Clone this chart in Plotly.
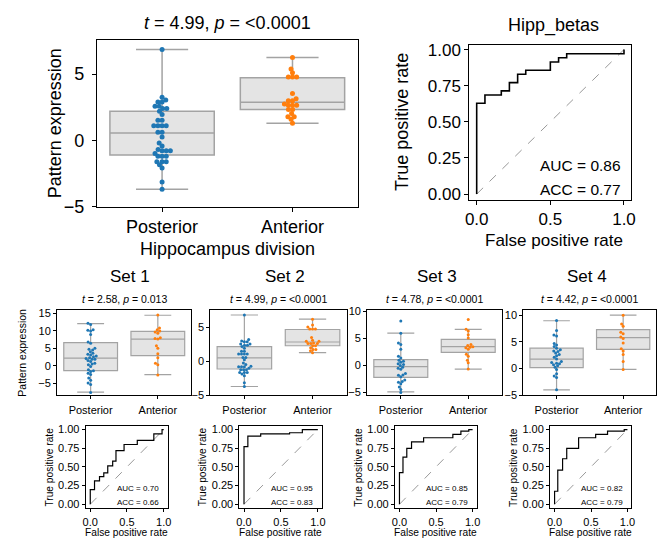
import numpy as np
import plotly.graph_objects as go

W, H = 665, 549

# ---------------- data ----------------
categories = ["Posterior", "Anterior"]

hipp_title_t = "4.99"
hipp_title_p = "<0.0001"
hipp_auc = "0.86"
hipp_acc = "0.77"

hipp_posterior = [6.86, 3.26, 3.04, 2.9, 2.9, 2.57, 2.57, 2.4, 2.4, 2.2, 1.96, 1.52, 1.52,
                  1.1, 1.1, 1.1, 1.1, 0.61, 0.61, 0.25, -0.2, -0.42, -0.69, -0.78, -0.78,
                  -0.78, -0.98, -1.2, -1.2, -1.2, -1.6, -1.6, -1.6, -1.84, -2.08, -3.14, -3.68]
hipp_anterior = [6.25, 5.39, 5.1, 4.78, 4.78, 4.78, 3.53, 3.14, 2.99, 2.99, 2.75, 2.65,
                 2.65, 2.65, 2.33, 2.33, 2.03, 1.79, 1.79, 1.59, 1.3]

set1_posterior = [12.1, 11.8, 10.3, 10.1, 9.9, 8.9, 6.8, 6.4, 5.0, 4.7, 4.5, 4.0, 3.6, 3.3,
                  3.1, 2.8, 2.6, 2.3, 2.1, 1.9, 1.9, 1.5, 1.2, 0.75, 0.5, 0.3, -0.2, -1.1,
                  -1.4, -1.6, -2.1, -2.5, -3.5, -4.1, -4.9, -5.3, -7.6]
set1_anterior = [14.5, 10.8, 10.3, 9.9, 9.6, 9.3, 8.0, 7.8, 7.6, 5.7, 5.0, 3.4, 2.3, 0.75,
                 0.3, -2.6]
set3_posterior = [8.25, 6.0, 4.2, 3.9, 3.0, 1.7, 1.4, 1.0, 0.8, 0.6, 0.35, 0.2, 0.0, -0.3,
                  -0.5, -0.7, -1.5, -1.75, -1.8, -2.1, -2.7, -2.95, -3.1, -3.4, -4.0,
                  -4.45, -5.0]
set3_anterior = [8.55, 6.75, 6.4, 5.7, 5.1, 3.9, 3.7, 3.5, 3.4, 3.3, 3.0, 2.1, 1.7, 1.0,
                 0.5, -0.65]
set4_posterior = [9.0, 7.1, 6.3, 6.1, 4.7, 4.4, 4.1, 3.8, 3.5, 3.3, 3.2, 2.9, 2.6, 2.4,
                  2.1, 1.8, 1.3, 1.1, 1.0, 0.9, 0.7, 0.5, 0.25, -0.2, -1.0, -1.4, -1.7, -4.0]
set4_anterior = [10.0, 8.35, 7.9, 6.8, 6.5, 5.9, 5.6, 4.8, 3.7, 3.3, 2.6, 1.3, -0.2]

# box statistics [posterior, anterior]
hipp_q1 = [-1.1, 2.33]
hipp_med = [0.55, 2.88]
hipp_q3 = [2.2, 4.72]
hipp_lo = [-3.68, 1.3]
hipp_hi = [6.86, 6.25]

set1_q1 = [-1.4, 2.9]
set1_med = [2.2, 7.6]
set1_q3 = [6.6, 9.8]
set1_lo = [-7.5, -2.5]
set1_hi = [12.0, 14.4]

set3_q1 = [-2.2, 2.45]
set3_med = [-0.2, 3.5]
set3_q3 = [1.1, 4.85]
set3_lo = [-4.9, -0.65]
set3_hi = [6.0, 6.7]

set4_q1 = [0.15, 3.6]
set4_med = [1.75, 5.8]
set4_q3 = [3.8, 7.3]
set4_lo = [-4.0, -0.15]
set4_hi = [8.95, 10.0]

set_names = ["Set 1", "Set 2", "Set 3", "Set 4"]
set_t = ["2.58", "4.99", "4.78", "4.42"]
set_p = ["0.013", "<0.0001", "<0.0001", "<0.0001"]
set_auc = ["0.70", "0.95", "0.85", "0.82"]
set_acc = ["0.66", "0.83", "0.79", "0.79"]

# ROC curve corner points
hipp_fpr = [0, 0, 0.056, 0.167, 0.222, 0.278, 0.333, 0.5, 0.556, 0.611, 1.0]
hipp_tpr = [0, 0.629, 0.686, 0.714, 0.771, 0.829, 0.857, 0.914, 0.943, 0.971, 1.0]
set1_fpr = [0, 0, 0.058, 0.126, 0.184, 0.238, 0.305, 0.35, 0.46, 0.64, 0.865, 0.977, 1.0]
set1_tpr = [0, 0.196, 0.313, 0.37, 0.42, 0.513, 0.578, 0.717, 0.80, 0.856, 0.943, 1.0, 1.0]
set2_fpr = [0, 0, 0.052, 0.226, 0.617, 0.79, 1.0]
set2_tpr = [0, 0.77, 0.913, 0.943, 0.957, 1.0, 1.0]
set3_fpr = [0, 0, 0.048, 0.1, 0.165, 0.33, 0.73, 0.84, 0.948, 1.0]
set3_tpr = [0, 0.422, 0.63, 0.748, 0.835, 0.89, 0.935, 0.978, 1.0, 1.0]
set4_fpr = [0, 0, 0.044, 0.11, 0.167, 0.33, 0.564, 0.727, 0.956, 1.0]
set4_tpr = [0, 0.174, 0.457, 0.609, 0.748, 0.89, 0.935, 0.978, 1.0, 1.0]

# ---------------- styling ----------------
FONT = "Liberation Sans, Arial, Helvetica, sans-serif"
BLUE = "#1f77b4"
ORANGE = "#ff7f0e"
BOX_FILL = "#e4e4e4"
BOX_LINE = "#a3a3a3"

fig = go.Figure()
layout = dict(width=W, height=H, margin=dict(l=0, r=0, t=0, b=0, pad=0),
              paper_bgcolor="white", plot_bgcolor="white", showlegend=False,
              font=dict(family=FONT, color="black"))
annotations = []


def px_dom_x(x0, x1):
    return [x0 / W, x1 / W]


def px_dom_y(y0, y1):
    return [1 - y1 / H, 1 - y0 / H]


def text(x, y, s, size, angle=0, xanchor="center"):
    annotations.append(dict(x=x / W, y=1 - y / H, xref="paper", yref="paper", text=s,
                            showarrow=False, font=dict(size=size, family=FONT, color="black"),
                            textangle=angle, xanchor=xanchor, yanchor="middle"))


axis_count = [0]


def new_axes(xdom, ydom, xr, yr, xtv, xtt, ytv, ytt, tfs, tlen, xstand=0, ystand=0):
    axis_count[0] += 1
    n = axis_count[0]
    sx = "" if n == 1 else str(n)
    common = dict(showline=True, linecolor="black", linewidth=1, mirror=True,
                  ticks="outside", ticklen=tlen, tickwidth=1, tickcolor="black",
                  showgrid=False, zeroline=False, tickfont=dict(size=tfs, family=FONT))
    layout["xaxis" + sx] = dict(domain=xdom, range=xr, tickvals=xtv, ticktext=xtt,
                                anchor="y" + sx, ticklabelstandoff=xstand, **common)
    layout["yaxis" + sx] = dict(domain=ydom, range=yr, tickvals=ytv, ticktext=ytt,
                                anchor="x" + sx, ticklabelstandoff=ystand, **common)
    return "x" + sx, "y" + sx


def swarm(values, center, px_x, px_y, d):
    vals = np.asarray(values, float)
    order = np.argsort(vals)
    placed = []
    xs = np.zeros(len(vals))
    for i in order:
        y = vals[i] * px_y
        cands = [0.0]
        for (qx, qy) in placed:
            dy = y - qy
            if abs(dy) < d:
                dx = np.sqrt(d * d - dy * dy)
                cands += [qx + dx, qx - dx]
        cands = sorted(cands, key=lambda c: (abs(c), c))
        chosen = 0.0
        for c in cands:
            if all((c - qx) ** 2 + (y - qy) ** 2 >= d * d - 1e-6 for qx, qy in placed):
                chosen = c
                break
        placed.append((chosen, y))
        xs[i] = center + chosen / px_x
    return xs


def fmt_ticks(vals):
    return [("\u2212" + str(abs(v))) if v < 0 else str(v) for v in vals]


def box_panel(box, yr, ytv, groups, stats, tfs, tlen, msize, d, line_w, xstand=0, ystand=0):
    x0, y0, x1, y1 = box
    xa, ya = new_axes(px_dom_x(x0, x1), px_dom_y(y0, y1), [-0.5, 1.5], yr,
                      [0, 1], categories, ytv, fmt_ticks(ytv), tfs, tlen, xstand, ystand)
    q1, med, q3, lo, hi = stats
    for k in range(2):
        fig.add_trace(go.Box(x=[k], q1=[q1[k]], median=[med[k]], q3=[q3[k]],
                             lowerfence=[lo[k]], upperfence=[hi[k]], width=0.8,
                             whiskerwidth=0.5, fillcolor=BOX_FILL,
                             line=dict(color=BOX_LINE, width=line_w), boxpoints=False,
                             hoverinfo="skip", xaxis=xa, yaxis=ya))
    px_x = (x1 - x0) / 2.0
    px_y = (y1 - y0) / (yr[1] - yr[0])
    for k, (vals, col) in enumerate(zip(groups, [BLUE, ORANGE])):
        xs = swarm(vals, k, px_x, px_y, d)
        fig.add_trace(go.Scatter(x=xs, y=vals, mode="markers",
                                 marker=dict(size=msize, color=col, line=dict(width=0)),
                                 xaxis=xa, yaxis=ya, hoverinfo="skip"))


def roc_panel(box, xr, yr, fpr, tpr, tfs, tlen, lw, xstand=0):
    x0, y0, x1, y1 = box
    xa, ya = new_axes(px_dom_x(x0, x1), px_dom_y(y0, y1), xr, yr,
                      [0, 0.5, 1.0], ["0.0", "0.5", "1.0"],
                      [0, 0.25, 0.5, 0.75, 1.0], ["0.00", "0.25", "0.50", "0.75", "1.00"],
                      tfs, tlen, xstand, 0)
    fig.add_trace(go.Scatter(x=[0, 1], y=[0, 1], mode="lines",
                             line=dict(color="#999999", width=1, dash="dash"),
                             xaxis=xa, yaxis=ya, hoverinfo="skip"))
    fig.add_trace(go.Scatter(x=fpr, y=tpr, mode="lines", line=dict(color="black", width=lw, shape="hv"),
                             xaxis=xa, yaxis=ya, hoverinfo="skip"))


# ---------------- top row ----------------
top_box = (94, 37, 358, 208)
box_panel(top_box, [-5, 7.57], [-5, 0, 5], [hipp_posterior, hipp_anterior],
          (hipp_q1, hipp_med, hipp_q3, hipp_lo, hipp_hi), 18, 4, 5, 4.2, 1.5, 0, 4)
text(226, 20, "<i>t</i> = " + hipp_title_t + ", <i>p</i> = " + hipp_title_p, 18)
text(52, 122, "Pattern expression", 18, angle=-90)
text(226, 251, "Hippocampus division", 18)

top_roc = (471, 42, 635, 201)
roc_panel(top_roc, [-0.05, 1.05], [-0.04, 1.032], hipp_fpr, hipp_tpr, 17, 4, 1.6, 0)
text(556, 22, "Hipp_betas", 18)
text(403, 121, "True positive rate", 18, angle=-90)
text(557, 243, "False positive rate", 17)
text(627, 166, "AUC = " + hipp_auc, 15.5, xanchor="right")
text(627, 190, "ACC = " + hipp_acc, 15.5, xanchor="right")

# ---------------- bottom row ----------------
set_groups = [(set1_posterior, set1_anterior), (hipp_posterior, hipp_anterior),
              (set3_posterior, set3_anterior), (set4_posterior, set4_anterior)]
set_stats = [(set1_q1, set1_med, set1_q3, set1_lo, set1_hi),
             (hipp_q1, hipp_med, hipp_q3, hipp_lo, hipp_hi),
             (set3_q1, set3_med, set3_q3, set3_lo, set3_hi),
             (set4_q1, set4_med, set4_q3, set4_lo, set4_hi)]
set_yr = [[-8.45, 15.9], [-5, 7.6], [-5.55, 10.3], [-5.06, 10.97]]
set_ytv = [[-5, 0, 5, 10, 15], [-5, 0, 5], [-5, 0, 5, 10], [-5, 0, 5, 10]]
set_roc = [(set1_fpr, set1_tpr), (set2_fpr, set2_tpr), (set3_fpr, set3_tpr), (set4_fpr, set4_tpr)]

box_x = [(53.7, 189.7), (208.8, 346.8), (367.5, 504.0), (525.6, 660.4)]
roc_x = [(82.7, 165.7), (238.3, 321.7), (395.7, 478.3), (552.7, 635.0)]
set_title_x = [128, 284, 438.7, 590]

for i in range(4):
    bx0, bx1 = box_x[i]
    box_panel((bx0, 314, bx1, 401.7), set_yr[i], set_ytv[i], set_groups[i], set_stats[i],
              11, 3, 3, 2.9, 1.2, 1, 0)
    text(set_title_x[i], 280, set_names[i], 17)
    text((bx0 + bx1) / 2, 303, "<i>t</i> = " + set_t[i] + ", <i>p</i> = " + set_p[i], 10.5)

    rx0, rx1 = roc_x[i]
    roc_panel((rx0, 433.3, rx1, 516.7), [-0.062, 1.054], [-0.044, 1.044],
              set_roc[i][0], set_roc[i][1], 11, 3, 1.2, 1)
    text(rx0 - 36.5, 475, "True positive rate", 10.2, angle=-90)
    text((rx0 + rx1) / 2, 542, "False positive rate", 10.2)
    text(rx1 - 6.7, 497, "AUC = " + set_auc[i], 8, xanchor="right")
    text(rx1 - 6.7, 511.5, "ACC = " + set_acc[i], 8, xanchor="right")

text(18, 358, "Pattern expression", 10.5, angle=-90)

layout["annotations"] = annotations
fig.update_layout(**layout)
fig.write_html("out.html", config={"displayModeBar": False},
               post_script="document.body.style.margin='0';document.body.style.overflow='hidden';"
                           "document.documentElement.style.overflow='hidden';")
